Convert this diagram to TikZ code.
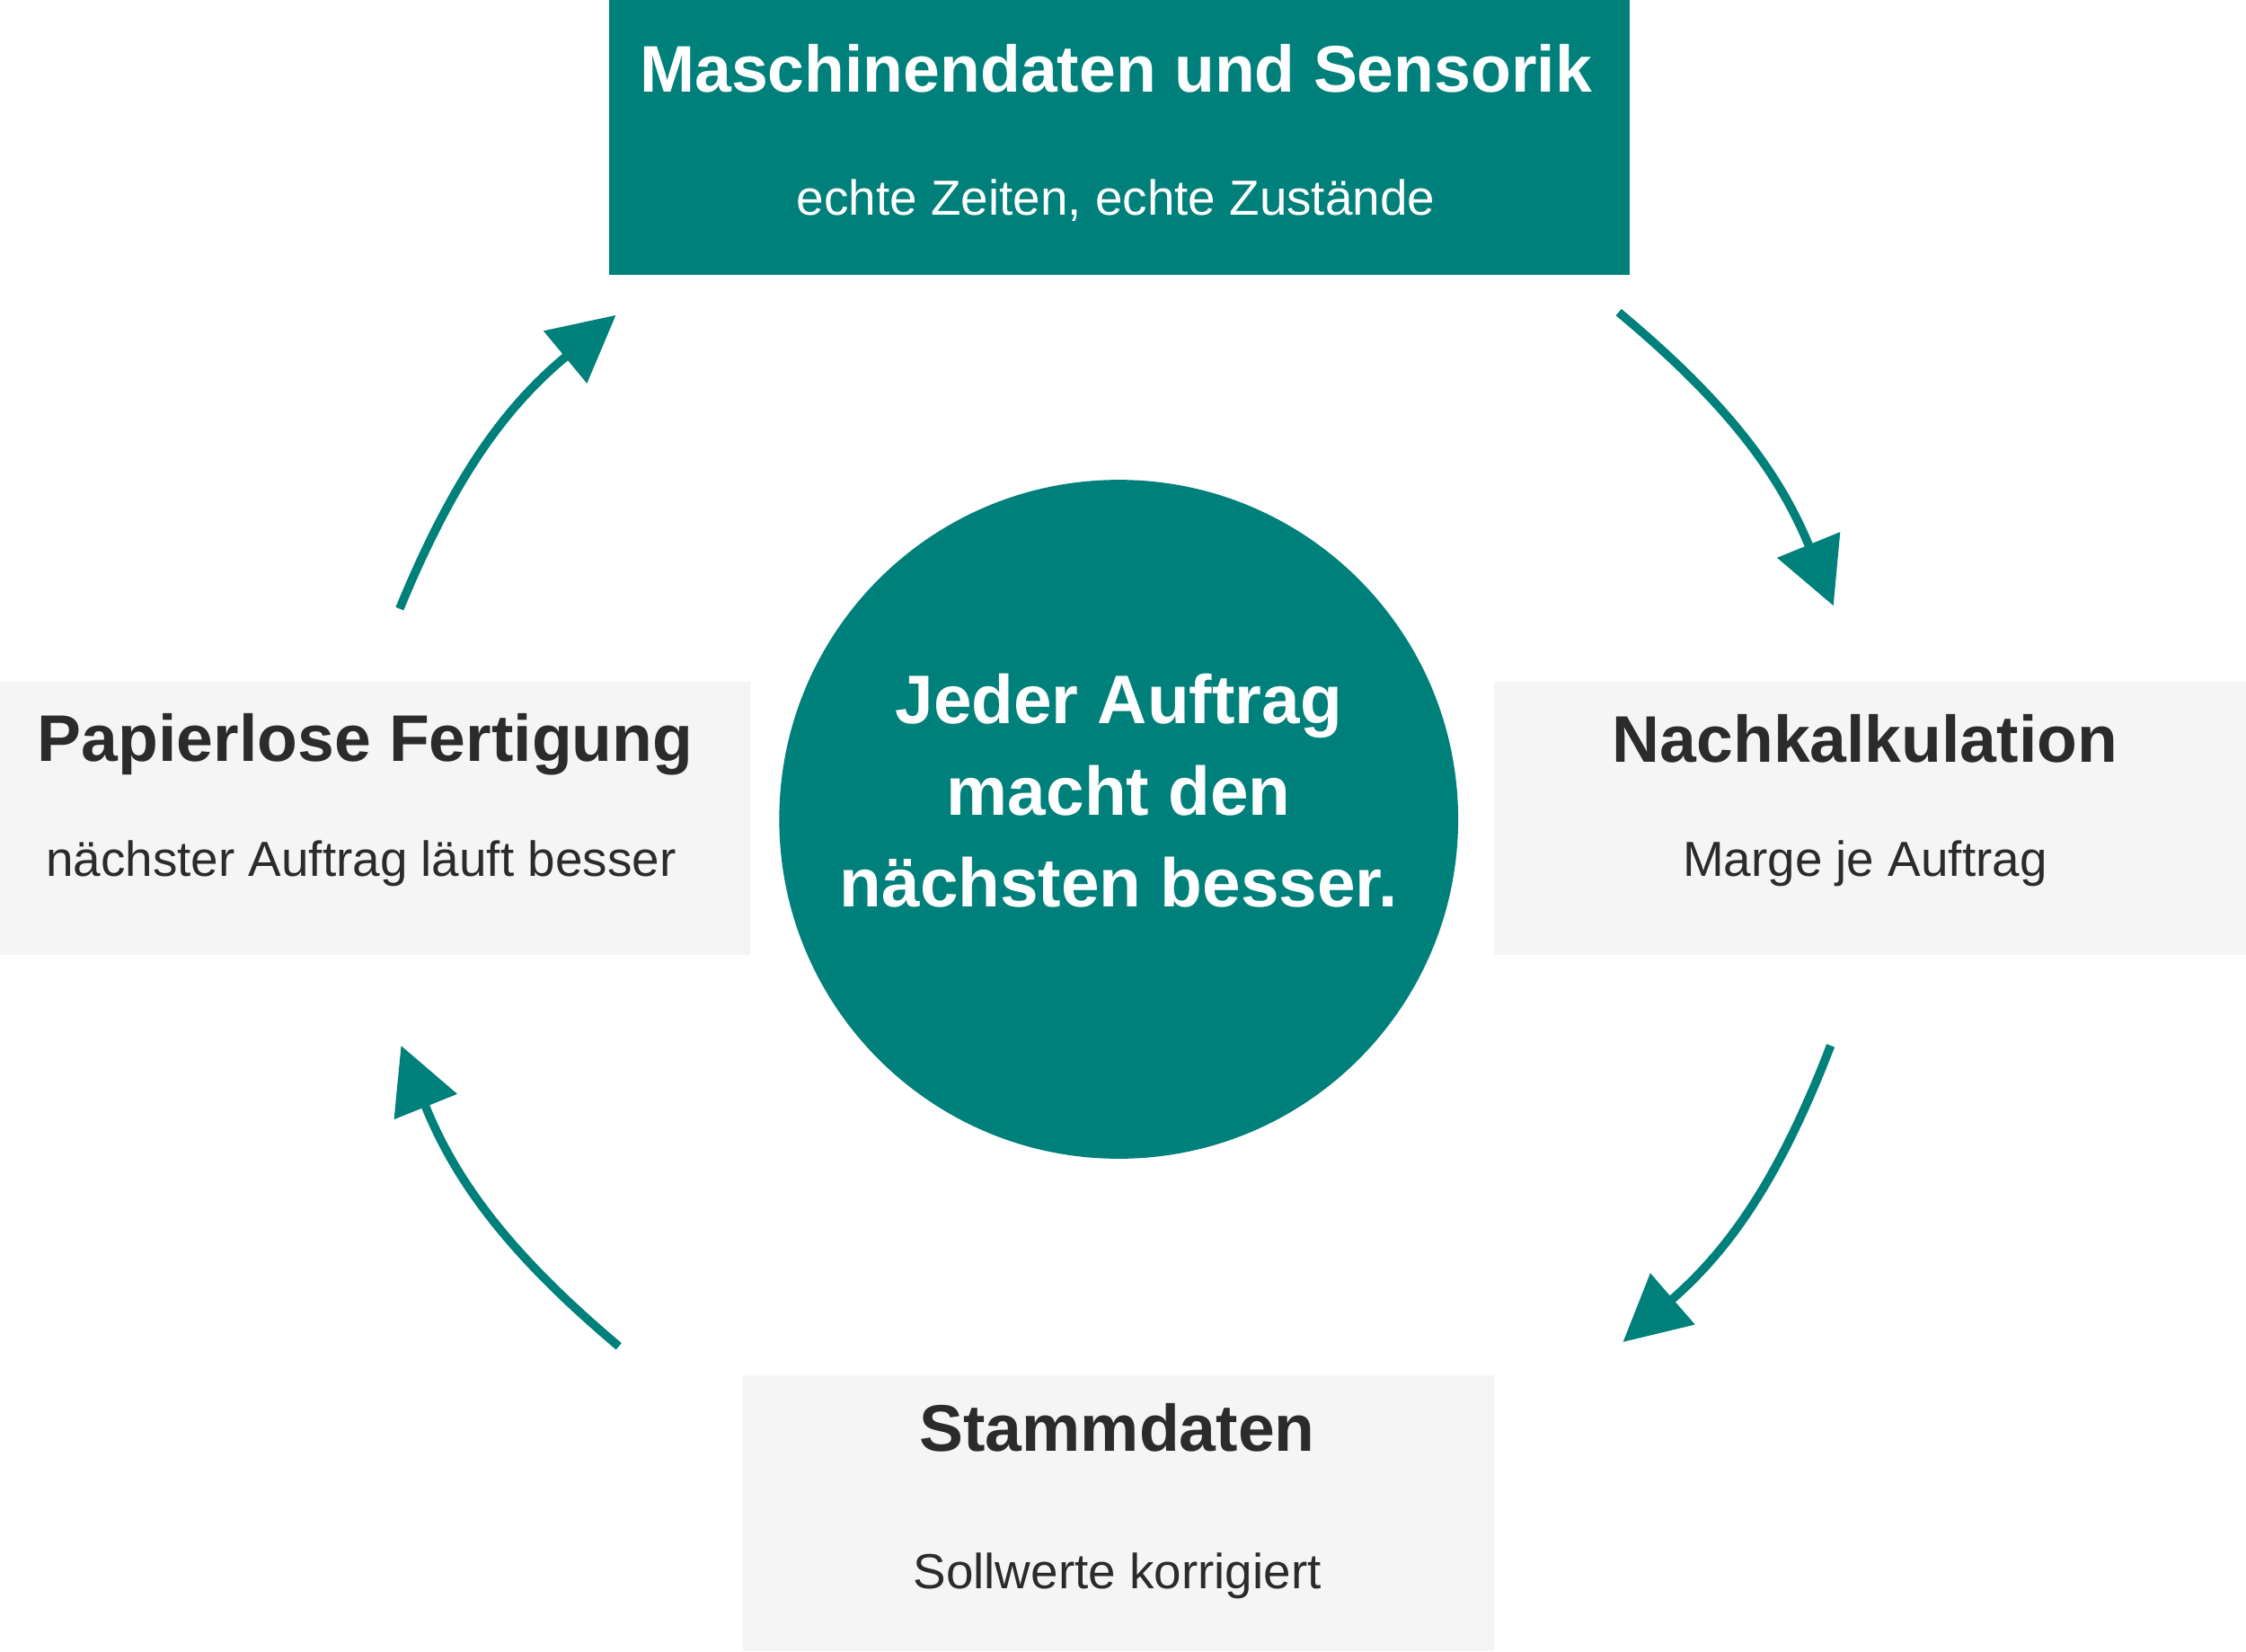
\documentclass[tikz,border=0pt]{standalone}
\usepackage{fontspec}
\setmainfont{Liberation Sans}
\usetikzlibrary{arrows.meta}
\definecolor{teal1}{HTML}{00807A}
\definecolor{pale}{HTML}{F4F5F4}
\definecolor{ink}{HTML}{2B2B2B}
\begin{document}
\begin{tikzpicture}[x=0.5pt,y=-0.5pt,
 ttl/.style={font=\bfseries\fontsize{23}{27}\selectfont},
 sub/.style={font=\fontsize{17.2}{20}\selectfont},
 arr/.style={teal1,line width=3pt,-{Triangle[length=23pt,width=23pt]}}]
\useasboundingbox (0,0) rectangle (1568,1153);
\fill[teal1] (425,0) rectangle (1138,192);
\fill[pale] (0,476) rectangle (524,667);
\fill[pale] (1043,476) rectangle (1568,667);
\fill[pale] (519,960) rectangle (1043,1153);
\node[ttl,white] (t1) at (779,48) {Maschinendaten und Sensorik};
\node[sub,white] (s1) at (779,140) {echte Zeiten, echte Zustände};
\node[ttl,ink] (t2) at (1302,516) {Nachkalkulation};
\node[sub,ink] (s2) at (1302,603) {Marge je Auftrag};
\node[ttl,ink] (t3) at (780,997) {Stammdaten};
\node[sub,ink] (s3) at (780,1100) {Sollwerte korrigiert};
\node[ttl,ink] (t4) at (255,520) {Papierlose Fertigung};
\node[sub,ink] (s4) at (252,603) {nächster Auftrag läuft besser};
\node[circle,fill=teal1,minimum size=237pt,inner sep=0pt] (c) at (781,572) {};
\node[white,align=center,font=\bfseries\fontsize{24}{32}\selectfont] (ct) at (781,552) {Jeder Auftrag\\macht den\\nächsten besser.};
\coordinate (a1) at (279,425); \coordinate (b1) at (430,220);
\coordinate (a2) at (1130,218); \coordinate (b2) at (1280,423);
\coordinate (a3) at (1278,730); \coordinate (b3) at (1133,937);
\coordinate (a4) at (432,940); \coordinate (b4) at (280,730);
\draw[arr] (a1) to[bend left=14] (b1);
\draw[arr] (a2) to[bend left=14] (b2);
\draw[arr] (a3) to[bend left=14] (b3);
\draw[arr] (a4) to[bend left=14] (b4);
\end{tikzpicture}
\end{document}
